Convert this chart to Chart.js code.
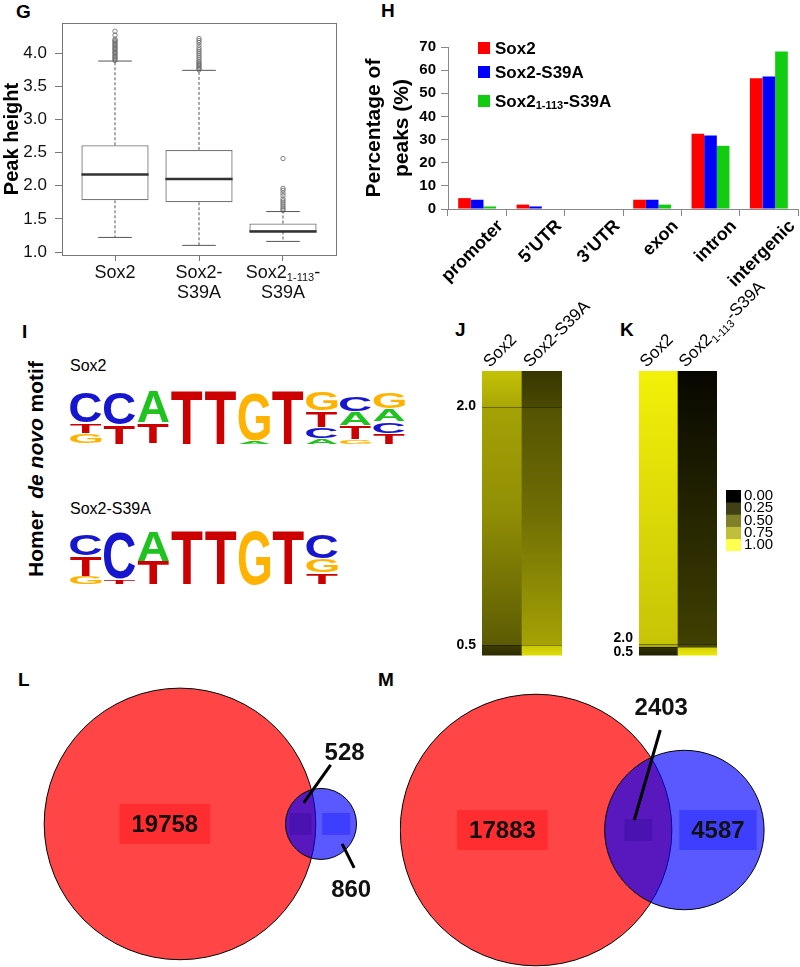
<!DOCTYPE html>
<html>
<head>
<meta charset="utf-8">
<script src="https://cdn.jsdelivr.net/npm/chart.js@4.4.1/dist/chart.umd.min.js"></script>
<style>
  body { margin: 0; width: 800px; height: 967px; position: relative; overflow: hidden; background: #fff;
         font-family: 'Liberation Sans', Arial, sans-serif; color: #000; }
  canvas { position: absolute; }
  .tag { position: absolute; font-weight: bold; font-size: 19px; line-height: 1; }
  .txt { position: absolute; font-size: 16px; line-height: 1; white-space: nowrap; }
  .vert { position: absolute; font-size: 21px; font-weight: bold; line-height: 1; white-space: nowrap;
          transform: translate(-50%, -50%) rotate(-90deg); }
</style>
</head>
<body>
<div class="tag" style="left:16px;top:2px">G</div>
<div class="tag" style="left:381px;top:1px">H</div>
<div class="tag" style="left:22px;top:322px">I</div>
<div class="tag" style="left:455px;top:320px">J</div>
<div class="tag" style="left:620px;top:320px">K</div>
<div class="tag" style="left:18px;top:670px">L</div>
<div class="tag" style="left:378px;top:670px">M</div>
<div class="vert" style="left:35px;top:469px">Homer&nbsp; <i>de novo</i> motif</div>
<div class="txt" style="left:70px;top:358px">Sox2</div>
<div class="txt" style="left:70px;top:501px">Sox2-S39A</div>

<canvas id="boxG" width="345" height="310" style="left:0;top:0"></canvas>
<canvas id="barH" width="440" height="300" style="left:360px;top:0"></canvas>
<canvas id="logoSox2" width="337" height="56" style="left:69px;top:389px"></canvas>
<canvas id="logoS39A" width="270" height="56" style="left:69px;top:529px"></canvas>
<canvas id="heatJ" width="170" height="390" style="left:440px;top:280px"></canvas>
<canvas id="heatK" width="185" height="390" style="left:600px;top:280px"></canvas>
<canvas id="scaleK" width="95" height="85" style="left:700px;top:478px"></canvas>
<canvas id="vennL" width="400" height="307" style="left:0;top:660px"></canvas>
<canvas id="vennM" width="400" height="307" style="left:400px;top:660px"></canvas>

<script>
// G - peak height per factor (box plot)
const boxLabels = ['Sox2', 'Sox2-|S39A', 'Sox2_{1-113}-|S39A'];
const boxLow = [1.22, 1.10, 1.16];
const boxQ1 = [1.78, 1.75, 1.31];
const boxMed = [2.17, 2.10, 1.31];
const boxQ3 = [2.61, 2.54, 1.43];
const boxHigh = [3.88, 3.74, 1.61];
const outSox2 = [3.89, 3.91, 3.93, 3.95, 3.97, 3.99, 4.01, 4.03, 4.05, 4.07, 4.09, 4.11, 4.13, 4.15, 4.17, 4.19, 4.21, 4.27, 4.33];
const outS39A = [3.75, 3.77, 3.79, 3.81, 3.83, 3.85, 3.87, 3.90, 3.93, 3.96, 3.99, 4.02, 4.05, 4.08, 4.12, 4.16, 4.19, 4.22];
const outTrunc = [1.63, 1.65, 1.68, 1.71, 1.74, 1.77, 1.80, 1.85, 1.89, 1.93, 1.96, 2.41];
const peakTicks = [1.0, 1.5, 2.0, 2.5, 3.0, 3.5, 4.0];

// H - genomic distribution of peaks (%)
const regions = ['promoter', '5’UTR', '3’UTR', 'exon', 'intron', 'intergenic'];
const seriesNames = ['Sox2', 'Sox2-S39A', 'Sox2_{1-113}-S39A'];
const pctSox2 = [4.7, 1.9, 0, 4.0, 32.5, 56.5];
const pctS39A = [4.0, 1.1, 0, 4.0, 31.8, 57.2];
const pctTrunc = [1.1, 0, 0, 1.9, 27.3, 68.1];
const pctTicks = [0, 10, 20, 30, 40, 50, 60, 70];

// I - de novo motifs, letters bottom -> top with their heights in bits
const motifSox2Letters = ['AGTC', 'TC', 'CTA', 'T', 'T', 'AG', 'T', 'ACTG', 'GTAC', 'TCAG'];
const motifSox2Bits = [[0.06, 0.36, 0.36, 1.1], [0.7, 1.15], [0.05, 0.75, 1.15], [1.95], [1.95],
  [0.15, 1.75], [1.95], [0.22, 0.4, 0.6, 0.7], [0.2, 0.5, 0.5, 0.55], [0.4, 0.42, 0.46, 0.6]];
const motifS39ALetters = ['GTC', 'TC', 'TA', 'T', 'T', 'G', 'T', 'TGC'];
const motifS39ABits = [[0.3, 0.75, 0.8], [0.2, 1.7], [0.85, 1.1], [1.95], [1.95], [1.95], [1.95], [0.42, 0.5, 0.9]];

// J, K - heatmaps: per column, segments [row% start, row% end, value top, value bottom]
const heatColsJ = ['Sox2', 'Sox2-S39A'];
const heatJ = [
  [[0, 12.5, 0.79, 0.68], [12.5, 50, 0.66, 0.58], [50, 96.2, 0.58, 0.37], [96.2, 100, 0.25, 0.18]],
  [[0, 12.5, 0.22, 0.30], [12.5, 50, 0.34, 0.45], [50, 96.2, 0.45, 0.66], [96.2, 100, 0.80, 0.90]]
];
const heatJMarks = [12.5, 96.2];
const heatColsK = ['Sox2', 'Sox2_{1-113}-S39A'];
const heatK = [
  [[0, 95.8, 0.98, 0.80], [95.8, 96.9, 0.72, 0.70], [96.9, 100, 0.22, 0.12]],
  [[0, 95.8, 0.03, 0.26], [95.8, 96.9, 0.30, 0.30], [96.9, 100, 0.85, 0.95]]
];
const heatKMarks = [95.8, 96.9];
const markLabels = ['2.0', '0.5'];
const scaleValues = [0, 0.25, 0.5, 0.75, 1];
const scaleLabels = ['0.00', '0.25', '0.50', '0.75', '1.00'];

// L, M - peak overlaps [only Sox2, shared, only mutant]
const vennL = [19758, 528, 860];
const vennM = [17883, 2403, 4587];

const FAMILY = "'Liberation Sans', Arial, Helvetica, sans-serif";
Chart.defaults.font.family = FAMILY;
Chart.defaults.color = '#000';
Chart.defaults.animation = false;
Chart.defaults.responsive = false;
Chart.defaults.events = [];
Chart.defaults.plugins.legend.display = false;
Chart.defaults.plugins.tooltip.enabled = false;

// text with _{subscript} parts
function parseRich(str) {
  const out = [];
  const re = /_\{([^}]*)\}/g;
  let last = 0, m;
  while ((m = re.exec(str))) {
    if (m.index > last) out.push({ t: str.slice(last, m.index), sub: false });
    out.push({ t: m[1], sub: true });
    last = re.lastIndex;
  }
  if (last < str.length) out.push({ t: str.slice(last), sub: false });
  return out;
}

function drawRich(c, str, x, y, size, weight, align) {
  const segs = parseRich(str);
  const fN = `${weight} ${size}px ${FAMILY}`;
  const fS = `${weight} ${Math.round(size * 0.62)}px ${FAMILY}`;
  let w = 0;
  segs.forEach(s => { c.font = s.sub ? fS : fN; s.w = c.measureText(s.t).width; w += s.w; });
  let cx = align === 'center' ? x - w / 2 : align === 'right' ? x - w : x;
  c.textAlign = 'left';
  segs.forEach(s => {
    c.font = s.sub ? fS : fN;
    c.fillText(s.t, cx, y + (s.sub ? size * 0.25 : 0));
    cx += s.w;
  });
  return w;
}

function line(c, x1, y1, x2, y2) {
  c.beginPath(); c.moveTo(x1, y1); c.lineTo(x2, y2); c.stroke();
}

// ---------- G ----------
const boxParts = {
  id: 'boxParts',
  afterDatasetsDraw(chart) {
    const c = chart.ctx, ys = chart.scales.y;
    const meta = chart.getDatasetMeta(0);
    meta.data.forEach((bar, i) => {
      const x = bar.x, w = bar.width;
      const hi = ys.getPixelForValue(boxHigh[i]), lo = ys.getPixelForValue(boxLow[i]);
      c.save();
      c.strokeStyle = '#555';
      c.lineWidth = 1;
      c.setLineDash([3, 2]);
      line(c, x, ys.getPixelForValue(boxQ3[i]), x, hi);
      line(c, x, ys.getPixelForValue(boxQ1[i]), x, lo);
      c.setLineDash([]);
      line(c, x - w / 4, hi, x + w / 4, hi);
      line(c, x - w / 4, lo, x + w / 4, lo);
      c.strokeStyle = '#333';
      c.lineWidth = 2.5;
      const md = ys.getPixelForValue(boxMed[i]);
      line(c, x - w / 2, md, x + w / 2, md);
      c.restore();
    });
  },
  afterDraw(chart) {
    const { ctx: c, chartArea: a, scales: { x } } = chart;
    c.save();
    c.strokeStyle = '#777';
    c.lineWidth = 1;
    c.strokeRect(a.left + 0.5, a.top + 0.5, a.right - a.left, a.bottom - a.top);
    c.fillStyle = '#111';
    c.textBaseline = 'middle';
    boxLabels.forEach((lab, i) => {
      lab.split('|').forEach((ln, j) =>
        drawRich(c, ln, x.getPixelForValue(i + 1), a.bottom + 18 + j * 20, 18, 'normal', 'center'));
    });
    c.restore();
  }
};

const outliers = [outSox2, outS39A, outTrunc];
new Chart(document.getElementById('boxG'), {
  type: 'bar',
  data: {
    datasets: [
      {
        data: boxQ1.map((q, i) => ({ x: i + 1, y: [q, boxQ3[i]] })),
        backgroundColor: '#fff', borderColor: '#777', borderWidth: 1.3, borderSkipped: false,
        barPercentage: 1, categoryPercentage: 0.8
      },
      {
        type: 'scatter',
        data: outliers.flatMap((arr, i) => arr.map(v => ({ x: i + 1, y: v }))),
        pointRadius: 2.2, pointBorderWidth: 0.8, pointBorderColor: '#666', pointBackgroundColor: 'rgba(0,0,0,0)'
      }
    ]
  },
  options: {
    layout: { padding: { top: 23, right: 9, left: 0, bottom: 0 } },
    scales: {
      x: {
        type: 'linear', min: 0.369, max: 3.631, offset: false,
        afterBuildTicks: s => { s.ticks = boxLabels.map((_, i) => ({ value: i + 1 })); },
        afterFit: s => { s.height = 55; },
        ticks: { display: false },
        grid: { offset: false, drawOnChartArea: false, tickLength: 6, color: '#777' },
        border: { display: false }
      },
      y: {
        min: 0.955, max: 4.454,
        afterBuildTicks: s => { s.ticks = peakTicks.map(v => ({ value: v })); },
        afterFit: s => { s.width = 62; },
        ticks: { callback: v => v.toFixed(1), font: { size: 17 }, color: '#111', padding: 8 },
        grid: { drawOnChartArea: false, tickLength: 7, color: '#777' },
        border: { display: false },
        title: { display: true, text: 'Peak height', font: { size: 20, weight: 'bold' }, padding: 0 }
      }
    }
  },
  plugins: [boxParts]
});

// ---------- H ----------
const barColors = ['#ff0000', '#0000ff', '#11cc11'];
const hExtras = {
  id: 'hExtras',
  afterDraw(chart) {
    const { ctx: c, chartArea: a, scales: { x } } = chart;
    c.save();
    c.fillStyle = '#000';
    c.textBaseline = 'top';
    regions.forEach((r, i) => {
      c.save();
      c.translate(x.getPixelForValue(i) + 17, a.bottom + 8);
      c.rotate(-Math.PI / 4);
      drawRich(c, r, 0, 0, 18, 'bold', 'right');
      c.restore();
    });
    // legend
    c.textBaseline = 'middle';
    let y = a.top + 1;
    seriesNames.forEach((name, i) => {
      if (i > 0) y += 24 + (name.includes('_{') ? 5 : 0);
      c.fillStyle = barColors[i];
      c.fillRect(a.left + 30, y - 6, 12, 12);
      c.fillStyle = '#000';
      drawRich(c, name, a.left + 47, y + 1, 17, 'bold', 'left');
    });
    c.restore();
  }
};

new Chart(document.getElementById('barH'), {
  type: 'bar',
  data: {
    labels: regions,
    datasets: [pctSox2, pctS39A, pctTrunc].map((d, i) => ({
      label: seriesNames[i], data: d, backgroundColor: barColors[i], borderWidth: 0,
      barPercentage: 1, categoryPercentage: 0.65
    }))
  },
  options: {
    layout: { padding: { top: 47, right: 2, left: 0, bottom: 0 } },
    scales: {
      x: {
        afterFit: s => { s.height = 91; },
        ticks: { display: false },
        grid: { offset: true, drawOnChartArea: false, tickLength: 7, color: '#888' },
        border: { color: '#888' }
      },
      y: {
        min: 0, max: 70,
        afterBuildTicks: s => { s.ticks = pctTicks.map(v => ({ value: v })); },
        afterFit: s => { s.width = 88; },
        ticks: { font: { size: 15, weight: 'bold' }, padding: 5 },
        grid: { drawOnChartArea: false, tickLength: 7, color: '#888' },
        border: { color: '#888' },
        title: {
          display: true, text: ['Percentage of', 'peaks (%)'],
          font: { size: 21, weight: 'bold', lineHeight: 1.35 }, padding: 0
        }
      }
    }
  },
  plugins: [hExtras]
});

// ---------- I ----------
const letterColors = { A: '#1fc21f', C: '#1616cf', G: '#ffb300', T: '#cc0000' };

function drawLetter(c, ch, color, x, y, w, h) {
  if (h <= 0.5 || w <= 0) return;
  c.save();
  c.font = `bold 100px ${FAMILY}`;
  const m = c.measureText(ch);
  const gw = m.actualBoundingBoxLeft + m.actualBoundingBoxRight;
  const gh = m.actualBoundingBoxAscent + m.actualBoundingBoxDescent;
  c.translate(x, y);
  c.scale(w / gw, h / gh);
  c.fillStyle = color;
  c.textAlign = 'left';
  c.textBaseline = 'alphabetic';
  c.fillText(ch, m.actualBoundingBoxLeft, m.actualBoundingBoxAscent);
  c.restore();
}

const logoLetters = {
  id: 'logoLetters',
  afterDatasetsDraw(chart) {
    const c = chart.ctx;
    chart.data.datasets.forEach((ds, di) => {
      chart.getDatasetMeta(di).data.forEach((bar, i) => {
        const ch = ds.letters[i];
        if (!ch) return;
        const p = bar.getProps(['x', 'y', 'base', 'width'], true);
        const h = p.base - p.y;
        drawLetter(c, ch, letterColors[ch], p.x - p.width / 2, p.y + 0.6, p.width, h - 1.2);
      });
    });
  }
};

function logoChart(id, letters, bits) {
  const layers = Math.max(...letters.map(s => s.length));
  const datasets = [];
  for (let k = 0; k < layers; k++) {
    datasets.push({
      data: bits.map(b => b[k] || 0),
      letters: letters.map(s => s[k] || ''),
      backgroundColor: 'rgba(0,0,0,0)', borderWidth: 0,
      barPercentage: 0.93, categoryPercentage: 1
    });
  }
  return new Chart(document.getElementById(id), {
    type: 'bar',
    data: { labels: letters.map((_, i) => String(i + 1)), datasets },
    options: {
      layout: { padding: 0 },
      scales: {
        x: { display: false, stacked: true },
        y: { display: false, stacked: true, min: 0, max: 2 }
      }
    },
    plugins: [logoLetters]
  });
}
logoChart('logoSox2', motifSox2Letters, motifSox2Bits);
logoChart('logoS39A', motifS39ALetters, motifS39ABits);

// ---------- J, K ----------
function heatColor(v) {
  return `rgb(${Math.round(248 * v)},${Math.round(245 * v)},${Math.round(8 * v)})`;
}
function legendColor(v) {
  return `rgb(${Math.round(255 * v)},${Math.round(255 * v)},${Math.round(80 * v)})`;
}

// keep two neighbouring tick labels readable
function spreadMarks(vals, gap) {
  const out = vals.slice();
  for (let i = 1; i < out.length; i++) {
    if (out[i] - out[i - 1] < gap) {
      const mid = (out[i] + out[i - 1]) / 2;
      out[i - 1] = mid - gap / 2;
      out[i] = mid + gap / 2;
    }
  }
  return out;
}

function heatExtras(cols, marks) {
  return {
    id: 'heatExtras',
    afterDatasetsDraw(chart) {
      const { ctx: c, chartArea: a, scales: { x, y } } = chart;
      c.save();
      c.strokeStyle = 'rgba(0,0,0,0.35)';
      c.lineWidth = 1;
      marks.forEach(v => {
        const py = Math.round(y.getPixelForValue(v)) + 0.5;
        line(c, a.left, py, a.right, py);
      });
      c.fillStyle = '#000';
      c.textBaseline = 'alphabetic';
      cols.forEach((txt, i) => {
        c.save();
        c.translate(x.getPixelForValue(i) - 12, a.top - 3);
        c.rotate(-Math.PI / 4);
        drawRich(c, txt, 0, 0, 17, 'normal', 'left');
        c.restore();
      });
      c.restore();
    }
  };
}

function heatChart(id, cols, segs, marks, pad, axisWidth) {
  const n = Math.max(...segs.map(s => s.length));
  const datasets = [];
  for (let k = 0; k < n; k++) {
    datasets.push({
      data: segs.map(s => (s[k] ? [s[k][0], s[k][1]] : null)),
      backgroundColor: ctx => {
        const seg = segs[ctx.dataIndex] && segs[ctx.dataIndex][k];
        const ys = ctx.chart.scales.y;
        if (!seg || !ys) return 'rgba(0,0,0,0)';
        const y0 = ys.getPixelForValue(seg[0]), y1 = ys.getPixelForValue(seg[1]);
        if (!isFinite(y0) || !isFinite(y1) || y0 === y1) return heatColor((seg[2] + seg[3]) / 2);
        const g = ctx.chart.ctx.createLinearGradient(0, y0, 0, y1);
        g.addColorStop(0, heatColor(seg[2]));
        g.addColorStop(1, heatColor(seg[3]));
        return g;
      },
      borderWidth: 0, grouped: false, barPercentage: 1, categoryPercentage: 1
    });
  }
  const tickPos = spreadMarks(marks, 4.9);
  return new Chart(document.getElementById(id), {
    type: 'bar',
    data: { labels: cols, datasets },
    options: {
      layout: { padding: pad },
      scales: {
        x: { display: false },
        y: {
          reverse: true, min: 0, max: 100,
          afterBuildTicks: s => { s.ticks = tickPos.map(v => ({ value: v })); },
          afterFit: s => { s.width = axisWidth; },
          ticks: { callback: (v, i) => markLabels[i], font: { size: 14, weight: 'bold' }, padding: 6, autoSkip: false },
          grid: { display: false, drawTicks: false },
          border: { display: false }
        }
      }
    },
    plugins: [heatExtras(cols, marks)]
  });
}
heatChart('heatJ', heatColsJ, heatJ, heatJMarks, { top: 91, right: 48, bottom: 12, left: 0 }, 42);
heatChart('heatK', heatColsK, heatK, heatKMarks, { top: 91, right: 68, bottom: 12, left: 0 }, 39);

new Chart(document.getElementById('scaleK'), {
  type: 'bar',
  data: {
    labels: [''],
    datasets: scaleValues.map((v, i) => ({
      data: [[i, i + 1]], backgroundColor: legendColor(v), borderWidth: 0,
      grouped: false, barPercentage: 1, categoryPercentage: 1
    }))
  },
  options: {
    layout: { padding: { left: 26, top: 6, bottom: 6, right: 0 } },
    scales: {
      x: { display: false },
      y: {
        position: 'right', reverse: true, min: 0, max: scaleValues.length,
        afterBuildTicks: s => { s.ticks = scaleValues.map((v, i) => ({ value: i + 0.5 })); },
        afterFit: s => { s.width = 54; },
        ticks: { callback: (v, i) => scaleLabels[i], font: { size: 15 }, padding: 3, autoSkip: false },
        grid: { display: false, drawTicks: false },
        border: { display: false }
      }
    }
  }
});

// ---------- L, M ----------
const VENN_PX = 1.69; // pixels per unit, circle area = count

function lensArea(r1, r2, d) {
  if (d >= r1 + r2) return 0;
  if (d <= Math.abs(r1 - r2)) return Math.PI * Math.min(r1, r2) ** 2;
  const a = r1 * r1 * Math.acos((d * d + r1 * r1 - r2 * r2) / (2 * d * r1));
  const b = r2 * r2 * Math.acos((d * d + r2 * r2 - r1 * r1) / (2 * d * r2));
  const k = 0.5 * Math.sqrt((-d + r1 + r2) * (d + r1 - r2) * (d - r1 + r2) * (d + r1 + r2));
  return a + b - k;
}

function solveDistance(r1, r2, area) {
  let lo = Math.abs(r1 - r2), hi = r1 + r2;
  for (let i = 0; i < 60; i++) {
    const mid = (lo + hi) / 2;
    if (lensArea(r1, r2, mid) > area) lo = mid; else hi = mid;
  }
  return (lo + hi) / 2;
}

function vennLabels(counts, callouts) {
  return {
    id: 'vennLabels',
    afterDatasetsDraw(chart) {
      const c = chart.ctx, xs = chart.scales.x, ys = chart.scales.y;
      const [A, B] = chart.data.datasets;
      const px = u => xs.getPixelForValue(u) - xs.getPixelForValue(0);
      const ax = xs.getPixelForValue(A.data[0].x), bx = xs.getPixelForValue(B.data[0].x);
      const cy = ys.getPixelForValue(A.data[0].y);
      const ra = px(A.rUnits), rb = px(B.rUnits);
      const spans = [[ax - ra, bx - rb], [bx - rb, ax + ra], [ax + ra, bx + rb]];
      const fills = ['rgba(255,0,10,0.35)', 'rgba(30,0,140,0.25)', 'rgba(0,0,255,0.3)'];
      c.save();
      c.font = `bold 24px ${FAMILY}`;
      c.textAlign = 'center';
      c.textBaseline = 'middle';
      counts.forEach((n, i) => {
        const [l, r] = spans[i];
        const mid = (l + r) / 2, span = r - l;
        const txt = String(n), tw = c.measureText(txt).width;
        if (tw + 24 <= span) {
          c.fillStyle = fills[i];
          c.fillRect(mid - tw / 2 - 12, cy - 20, tw + 24, 40);
          c.fillStyle = '#111';
          c.fillText(txt, mid, cy + 1);
        } else {
          const bw = Math.min(span - 8, 28);
          c.fillStyle = fills[i];
          c.fillRect(mid - bw / 2, cy - 11, bw, 22);
          const co = callouts[i];
          c.strokeStyle = '#000';
          c.lineWidth = 3;
          line(c, mid + co.line[0], cy + co.line[1], mid + co.line[2], cy + co.line[3]);
          c.fillStyle = '#111';
          c.fillText(txt, mid + co.dx, cy + co.dy);
        }
      });
      c.restore();
    }
  };
}

function vennChart(id, counts, redAt, callouts) {
  const [onlyA, both, onlyB] = counts;
  const rA = Math.sqrt((onlyA + both) / Math.PI);
  const rB = Math.sqrt((onlyB + both) / Math.PI);
  const d = solveDistance(rA, rB, both);
  const cv = document.getElementById(id);
  const radius = ctx => {
    const xs = ctx.chart.scales.x;
    const r = xs.getPixelForValue(ctx.dataset.rUnits) - xs.getPixelForValue(0);
    return isFinite(r) ? r : 0;
  };
  return new Chart(cv, {
    type: 'scatter',
    data: {
      datasets: [
        { data: [{ x: redAt[0], y: redAt[1] }], rUnits: rA, pointBackgroundColor: 'rgba(255,0,0,0.73)', order: 2 },
        { data: [{ x: redAt[0] + d, y: redAt[1] }], rUnits: rB, pointBackgroundColor: 'rgba(0,0,255,0.65)', order: 1 }
      ].map(ds => Object.assign(ds, { pointRadius: radius, pointBorderColor: '#000', pointBorderWidth: 1, clip: false }))
    },
    options: {
      layout: { padding: 0 },
      scales: {
        x: { display: false, min: 0, max: cv.width / VENN_PX },
        y: { display: false, min: 0, max: cv.height / VENN_PX, reverse: true }
      }
    },
    plugins: [vennLabels(counts, callouts)]
  });
}

vennChart('vennL', vennL, [106.5, 97.0], {
  1: { dx: 44, dy: -71, line: [30, -59, 3, -21] },
  2: { dx: 15, dy: 66, line: [6, 20, 18, 44] }
});
vennChart('vennM', vennM, [80.5, 100.6], {
  1: { dx: 23, dy: -122, line: [22, -100, -4, -10] }
});
</script>
</body>
</html>
